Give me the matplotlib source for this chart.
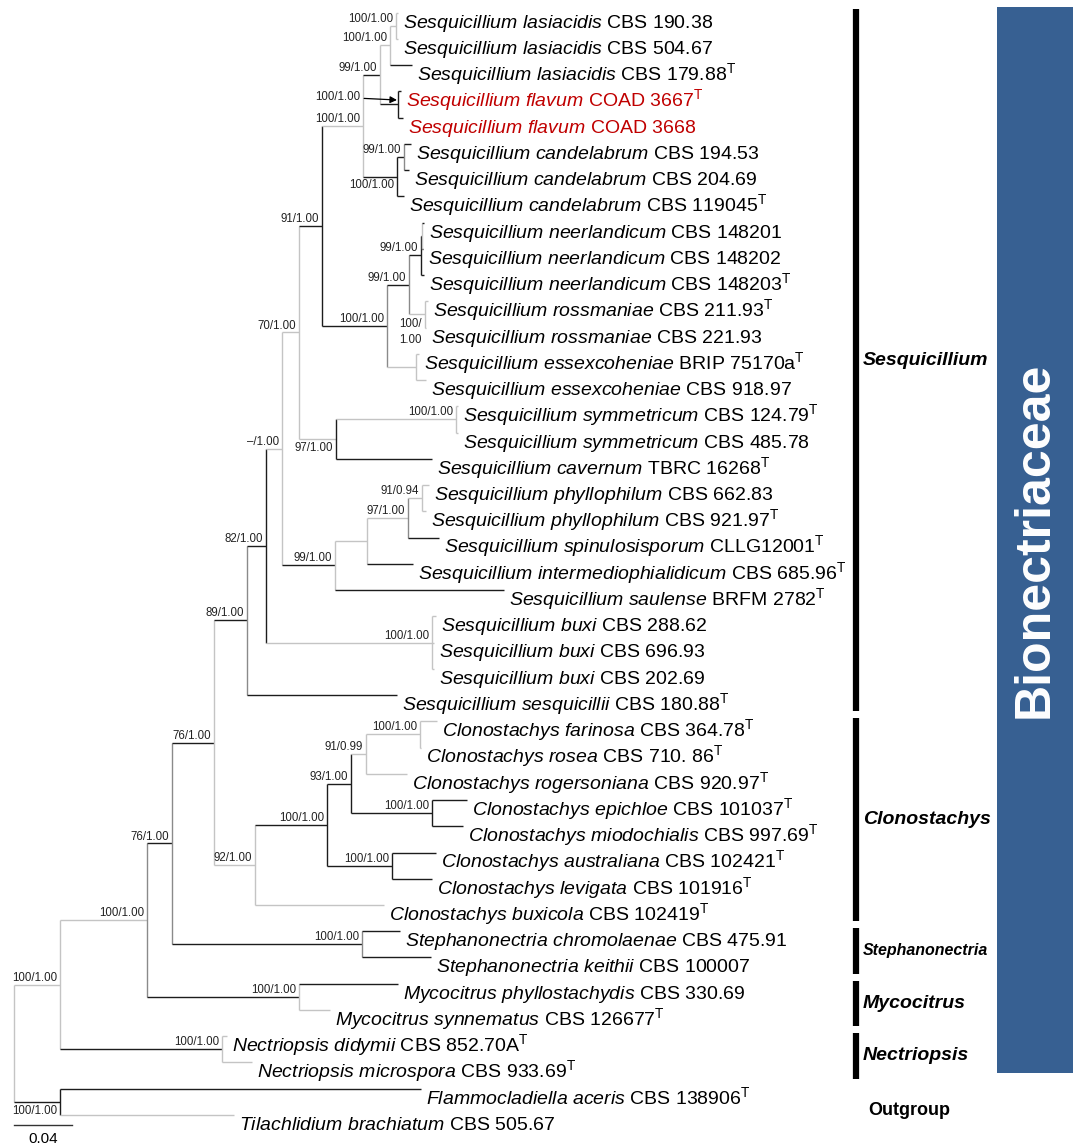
import matplotlib
matplotlib.use('Agg')
import matplotlib.pyplot as plt
from matplotlib.patches import Rectangle

plt.rcParams['font.family'] = 'Liberation Sans'
plt.rcParams['mathtext.fontset'] = 'custom'
plt.rcParams['mathtext.rm'] = 'Liberation Sans'
plt.rcParams['mathtext.it'] = 'Liberation Sans:italic'
plt.rcParams['mathtext.bf'] = 'Liberation Sans:bold'

# ---- 数据：分类单元 ----
GENUS = (['Sesquicillium'] * 27 + ['Clonostachys'] * 8 + ['Stephanonectria'] * 2
         + ['Mycocitrus'] * 2 + ['Nectriopsis'] * 2 + ['Flammocladiella', 'Tilachlidium'])
EPITHET = ['lasiacidis', 'lasiacidis', 'lasiacidis', 'flavum', 'flavum',
           'candelabrum', 'candelabrum', 'candelabrum', 'neerlandicum', 'neerlandicum',
           'neerlandicum', 'rossmaniae', 'rossmaniae', 'essexcoheniae', 'essexcoheniae',
           'symmetricum', 'symmetricum', 'cavernum', 'phyllophilum', 'phyllophilum',
           'spinulosisporum', 'intermediophialidicum', 'saulense', 'buxi', 'buxi', 'buxi',
           'sesquicillii', 'farinosa', 'rosea', 'rogersoniana', 'epichloe', 'miodochialis',
           'australiana', 'levigata', 'buxicola', 'chromolaenae', 'keithii',
           'phyllostachydis', 'synnematus', 'didymii', 'microspora', 'aceris', 'brachiatum']
STRAIN = ['CBS 190.38', 'CBS 504.67', 'CBS 179.88', 'COAD 3667', 'COAD 3668',
          'CBS 194.53', 'CBS 204.69', 'CBS 119045', 'CBS 148201', 'CBS 148202',
          'CBS 148203', 'CBS 211.93', 'CBS 221.93', 'BRIP 75170a', 'CBS 918.97',
          'CBS 124.79', 'CBS 485.78', 'TBRC 16268', 'CBS 662.83', 'CBS 921.97',
          'CLLG12001', 'CBS 685.96', 'BRFM 2782', 'CBS 288.62', 'CBS 696.93', 'CBS 202.69',
          'CBS 180.88', 'CBS 364.78', 'CBS 710. 86', 'CBS 920.97', 'CBS 101037',
          'CBS 997.69', 'CBS 102421', 'CBS 101916', 'CBS 102419', 'CBS 475.91',
          'CBS 100007', 'CBS 330.69', 'CBS 126677', 'CBS 852.70A', 'CBS 933.69',
          'CBS 138906', 'CBS 505.67']
TYPE_STRAIN = [2, 3, 7, 10, 11, 13, 15, 17, 19, 20, 21, 22, 26,
               27, 28, 29, 30, 31, 32, 33, 34, 38, 39, 40, 41]
NEW_SPECIES = ['flavum']

# ---- 树（Newick，枝长为替换数/位点）----
LAS = "((t00:0.0014,t01:0.0014)A:0.0041,t02:0.0152)B:0.0069"
FLAV = "(t03:0.0021,t04:0.0034)D:0.0124"
CAND = "((t05:0.0048,t06:0.0034)F:0.0048,t07:0.0048)G:0.0234"
NEER = "((t08:0.0014,t09:0.0007)K1:0.0007,t10:0.0021)K:0.0083"
ROSS = "(t11:0.0021,t12:0.0007)Ro:0.0110"
ESSEX = "(t13:0.0021,t14:0.0069)Es:0.0200"
SYMM = "((t15:0.0014,t16:0.0014)Sy:0.0828,t17:0.0662)M:0.0255"
PHYL = "((((t18:0.0048,t19:0.0028)R:0.0097,t20:0.0214)Q:0.0283,t21:0.0317)P:0.0221,t22:0.1166)O:0.0366"
BUXI = "(t23:0.0028,t24:0.0014,t25:0.0014)Bx:0.1145"
CLONO = ("(((((t27:0.0117,t28:0.0007)FR:0.0372,t29:0.0283)AA:0.0103,"
         "(t30:0.0241,t31:0.0214)Ep:0.0559)Y:0.0166,(t32:0.0303,t33:0.0276)Z:0.0448)W:0.0497,"
         "t34:0.0890)V:0.0283")
STEPH = "(t35:0.0262,t36:0.0476)St:0.1310"
MYCO = "(t37:0.0683,t38:0.0214)My:0.1048"
NECT = "(t39:0.0034,t40:0.0207)Ne:0.1117"
OUTG = "(t41:0.2490,t42:0.1200)OG:0.0317"

SESQ_E = f"(({LAS},{FLAV})C:0.0117,{CAND})E:0.0283"
SESQ_I = f"(({NEER},{ROSS})J:0.0152,{ESSEX})I:0.0448"
SESQ_L = f"(({SESQ_E},{SESQ_I})H:0.0159,{SYMM})L:0.0117"
SESQ_T = f"((({SESQ_L},{PHYL})N:0.0110,{BUXI})S:0.0131,t26:0.1034)T:0.0228"
TREE = f"((((({SESQ_T},{CLONO})U:0.0290,{STEPH})AB:0.0172,{MYCO})AC:0.0600,{NECT})AD:0.0317,{OUTG})root;"

SUPPORT = {'A': '100/1.00', 'B': '100/1.00', 'C': '99/1.00', 'D': '100/1.00',
           'E': '100/1.00', 'F': '99/1.00', 'G': '100/1.00', 'H': '91/1.00',
           'I': '100/1.00', 'J': '99/1.00', 'K': '99/1.00', 'Ro': '100/\n1.00',
           'Sy': '100/1.00', 'M': '97/1.00', 'L': '70/1.00', 'R': '91/0.94',
           'Q': '97/1.00', 'O': '99/1.00', 'N': '–/1.00', 'Bx': '100/1.00',
           'S': '82/1.00', 'T': '89/1.00', 'FR': '100/1.00', 'AA': '91/0.99',
           'Ep': '100/1.00', 'Y': '93/1.00', 'Z': '100/1.00', 'W': '100/1.00',
           'V': '92/1.00', 'U': '76/1.00', 'St': '100/1.00', 'AB': '76/1.00',
           'My': '100/1.00', 'AC': '100/1.00', 'Ne': '100/1.00', 'AD': '100/1.00',
           'OG': '100/1.00'}

# 类群（叶序号范围）
CLADES = [('Sesquicillium', 0, 26), ('Clonostachys', 27, 34),
          ('Stephanonectria', 35, 36), ('Mycocitrus', 37, 38), ('Nectriopsis', 39, 40)]
OUTGROUP = ('Outgroup', 41, 42)
FAMILY = ('Bionectriaceae', 0, 40)
SCALE = 0.04

# 样式
LABEL_BELOW = {'G', 'M', 'Ro', 'OG'}
VERT_LIGHT = {'A', 'B', 'C', 'E', 'Ro', 'Es', 'L', 'N', 'Sy', 'O', 'P', 'R', 'Bx',
              'U', 'V', 'AA', 'FR', 'My', 'AD', 'Ne', 'root', 'K1'}
VERT_MID = {'I', 'J', 'Q', 'T', 'AC', 'AB', 'St', 'F'}
BRANCH_LIGHT = {'t00', 't01', 'B', 'A', 't13', 't14', 'Es', 'Ro', 't11', 't12', 'M',
                'Sy', 't15', 't16', 'P', 'Q', 'R', 't18', 't19', 'Bx', 't23', 't24', 't25',
                'AA', 'FR', 't27', 't28', 't29', 't34', 'V', 't38', 'AD', 'AC', 't39',
                't40', 't42', 'E', 'L', 'N'}
DARK, MID, LIGHT = '#1c1c1c', '#8a8a8a', '#c4c4c4'

PX_PER_UNIT = 1450.0
PX = 1.0 / PX_PER_UNIT


def parse_newick(s):
    pos = 0

    def node():
        nonlocal pos
        children = []
        if s[pos] == '(':
            pos += 1
            while True:
                children.append(node())
                if s[pos] == ',':
                    pos += 1
                    continue
                pos += 1
                break
        start = pos
        while s[pos] not in ':,);':
            pos += 1
        name = s[start:pos]
        length = 0.0
        if s[pos] == ':':
            pos += 1
            start = pos
            while s[pos] not in ',);':
                pos += 1
            length = float(s[start:pos])
        return {'name': name, 'len': length, 'children': children}

    return node()


def layout(nd, x0, counter, nodes):
    nd['x'] = x0 + nd['len']
    nodes[nd['name']] = nd
    if not nd['children']:
        nd['y'] = counter[0]
        counter[0] += 1
    else:
        for c in nd['children']:
            layout(c, nd['x'], counter, nodes)
        nd['y'] = (nd['children'][0]['y'] + nd['children'][-1]['y']) / 2.0


def leaf_label(i):
    name = GENUS[i] + r'\ ' + EPITHET[i]
    lab = r'$\mathit{' + name + '}$ ' + STRAIN[i]
    if i in TYPE_STRAIN:
        lab += r'$^{\mathrm{T}}$'
    return lab


root = parse_newick(TREE)
nodes = {}
layout(root, 0.0, [0], nodes)
n_leaf = len(GENUS)

fig = plt.figure(figsize=(10.73, 11.47), dpi=100)
ax = fig.add_axes([0, 0, 1, 1])
ax.set_xlim(-14 * PX, 1059 * PX)
ax.set_ylim(43.22, -0.48)
ax.axis('off')

# 画枝
for name, nd in nodes.items():
    if not nd['children']:
        continue
    vc = LIGHT if name in VERT_LIGHT else (MID if name in VERT_MID else DARK)
    ax.plot([nd['x'], nd['x']], [nd['children'][0]['y'], nd['children'][-1]['y']],
            color=vc, lw=1.0, solid_capstyle='butt')
    for c in nd['children']:
        hc = LIGHT if c['name'] in BRANCH_LIGHT else DARK
        ax.plot([nd['x'], c['x']], [c['y'], c['y']], color=hc, lw=1.0,
                solid_capstyle='butt')

# 叶标签
for name, nd in nodes.items():
    if nd['children']:
        continue
    i = int(name[1:])
    col = '#c00000' if EPITHET[i] in NEW_SPECIES else 'black'
    ax.text(nd['x'] + 5 * PX, nd['y'] + 0.57, leaf_label(i), fontsize=14,
            ha='left', va='baseline', color=col)

# 支持率
for name, sup in SUPPORT.items():
    nd = nodes[name]
    if name == 'D':
        ax.annotate(sup, xy=(nd['x'] - 1 * PX, nd['y'] - 0.17),
                    xytext=(nd['x'] - 38 * PX, nd['y'] - 0.28),
                    ha='right', va='center', fontsize=8.3, color='#222222',
                    arrowprops=dict(arrowstyle='-|>', color='black', lw=0.9,
                                    shrinkA=1, shrinkB=0, mutation_scale=10))
    elif name == 'Ro':
        ax.text(nd['x'] - 3 * PX, nd['y'] + 0.15, sup, fontsize=8.3, ha='right',
                va='top', color='#222222', linespacing=1.35)
    elif name in LABEL_BELOW:
        ax.text(nd['x'] - 3 * PX, nd['y'] + 0.45, sup, fontsize=8.3, ha='right',
                va='baseline', color='#222222')
    else:
        ax.text(nd['x'] - 3 * PX, nd['y'] - 0.15, sup, fontsize=8.3, ha='right',
                va='baseline', color='#222222')

# 比例尺
ax.plot([0, SCALE], [n_leaf - 1 + 0.4, n_leaf - 1 + 0.4], color='#333333', lw=1.0)
ax.text(SCALE / 2, n_leaf - 1 + 0.92, f'{SCALE:.2f}', fontsize=11, ha='center', va='center')

# 类群竖条与名称
BAR_X = (856 - 14) * PX
for cname, a, b in CLADES:
    y0, y1 = a - 0.12, b + 0.62
    ax.plot([BAR_X, BAR_X], [y0, y1], color='black', lw=4.5, solid_capstyle='butt')
    fs = 11.5 if cname == 'Stephanonectria' else 14
    ax.text(BAR_X + 7 * PX, (y0 + y1) / 2, cname, fontsize=fs, fontweight='bold',
            fontstyle='italic', ha='left', va='center')
ax.text(BAR_X + 12 * PX, (OUTGROUP[1] + OUTGROUP[2]) / 2 + 0.34, OUTGROUP[0], fontsize=13,
        fontweight='bold', ha='left', va='center')

# 科
fx0 = (997 - 14) * PX
fx1 = 1059 * PX
fy0, fy1 = FAMILY[1] - 0.23, FAMILY[2] + 0.4
ax.add_patch(Rectangle((fx0, fy0), fx1 - fx0, fy1 - fy0, facecolor='#376092',
                       edgecolor='none'))
ax.text((fx0 + fx1) / 2, (fy0 + fy1) / 2, FAMILY[0], rotation=90, color='white',
        fontsize=36, fontweight='bold', ha='center', va='center')

fig.savefig('out.png', dpi=100)
